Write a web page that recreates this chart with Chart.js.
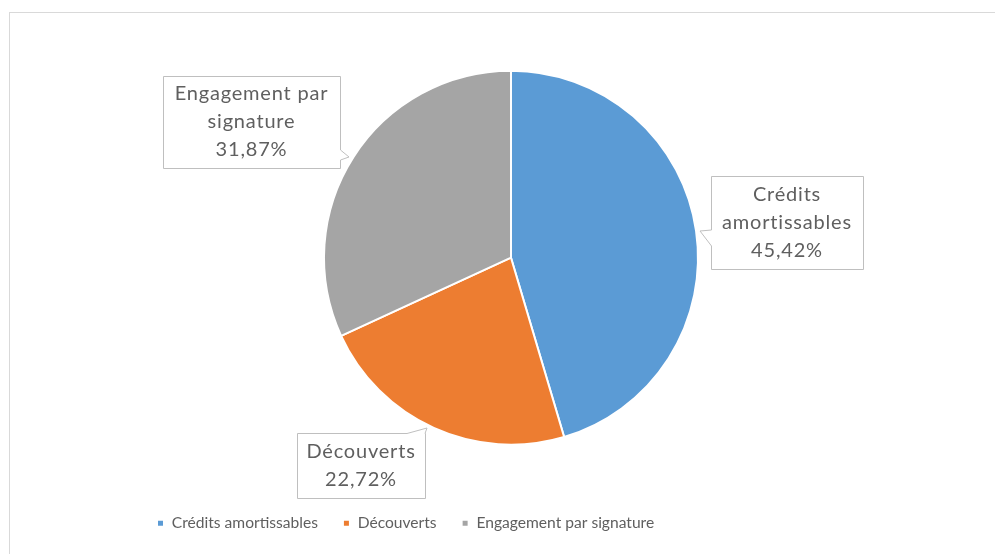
<!DOCTYPE html>
<html>
<head>
<meta charset="utf-8">
<script src="https://cdn.jsdelivr.net/npm/chart.js@4.4.0/dist/chart.umd.min.js"></script>
<style>
  html, body { margin: 0; padding: 0; background: #fff; }
  #wrap { width: 995px; height: 554px; }
</style>
</head>
<body>
<div id="wrap"><canvas id="pieChart"></canvas></div>
<script>
// données du graphique
const categories = ['Crédits amortissables', 'Découverts', 'Engagement par signature'];
const calloutLines = [['Crédits', 'amortissables'], ['Découverts'], ['Engagement par', 'signature']];
const parts = [45.42, 22.72, 31.87];
const couleurs = ['#5B9BD5', '#ED7D31', '#A5A5A5'];

// boîtes des étiquettes (x, y, largeur, hauteur) + pointe
const callouts = [
    { x: 711, y: 176, w: 152, h: 93, side: 'left', a: 230, b: 246, tip: [700, 231] },
    { x: 297, y: 433, w: 128, h: 65, side: 'top', a: 407, b: 425, tip: [427, 428] },
    { x: 163, y: 76, w: 177, h: 92, side: 'right', a: 150, b: 160, tip: [349, 157] }
];

function fmt(v) {
    return v.toFixed(2).replace('.', ',') + '%';
}

// cadre gris autour du graphique
const framePlugin = {
    id: 'frame',
    beforeDraw(chart) {
        const c = chart.ctx;
        c.save();
        c.strokeStyle = '#D9D9D9';
        c.lineWidth = 1;
        c.strokeRect(9.5, 12.5, 1000, 600);
        c.restore();
    }
};

// étiquettes en forme de bulle
const calloutPlugin = {
    id: 'callouts',
    afterDatasetsDraw(chart) {
        const c = chart.ctx;
        c.save();
        callouts.forEach((b, i) => {
            const L = b.x + 0.5, T = b.y + 0.5, R = b.x + b.w + 0.5, B = b.y + b.h + 0.5;
            c.beginPath();
            c.moveTo(L, T);
            if (b.side === 'top') {
                c.lineTo(b.a, T); c.lineTo(b.tip[0], b.tip[1]); c.lineTo(b.b, T);
            }
            c.lineTo(R, T);
            if (b.side === 'right') {
                c.lineTo(R, b.a); c.lineTo(b.tip[0], b.tip[1]); c.lineTo(R, b.b);
            }
            c.lineTo(R, B);
            c.lineTo(L, B);
            if (b.side === 'left') {
                c.lineTo(L, b.b); c.lineTo(b.tip[0], b.tip[1]); c.lineTo(L, b.a);
            }
            c.closePath();
            c.fillStyle = '#fff';
            c.fill();
            c.strokeStyle = '#BFBFBF';
            c.lineWidth = 1;
            c.stroke();

            const lines = calloutLines[i].concat([fmt(parts[i])]);
            c.fillStyle = '#5f5f5f';
            c.font = '20px Lato';
            c.letterSpacing = '0.8px';
            c.textAlign = 'center';
            c.textBaseline = 'middle';
            const lh = 28;
            const cy = b.y + b.h / 2 - (lines.length - 1) * lh / 2;
            lines.forEach((t, k) => c.fillText(t, b.x + b.w / 2, cy + k * lh));
        });
        c.restore();
    }
};

const ctx = document.getElementById('pieChart').getContext('2d');

const pieChart = new Chart(ctx, {
    type: 'pie',
    data: {
        labels: categories,
        datasets: [{
            data: parts,
            backgroundColor: couleurs,
            borderColor: '#fff',
            borderWidth: 2,
            radius: 187
        }]
    },
    options: {
        responsive: true,
        maintainAspectRatio: false,
        animation: false,
        layout: {
            padding: { left: 132, right: 105, top: 25, bottom: 13 }
        },
        plugins: {
            legend: {
                position: 'bottom',
                align: 'start',
                labels: {
                    boxWidth: 7,
                    boxHeight: 7,
                    padding: 25,
                    color: '#5f5f5f',
                    font: { family: 'Lato', size: 15.6 }
                }
            },
            tooltip: { enabled: false }
        }
    },
    plugins: [framePlugin, calloutPlugin]
});
</script>
</body>
</html>
